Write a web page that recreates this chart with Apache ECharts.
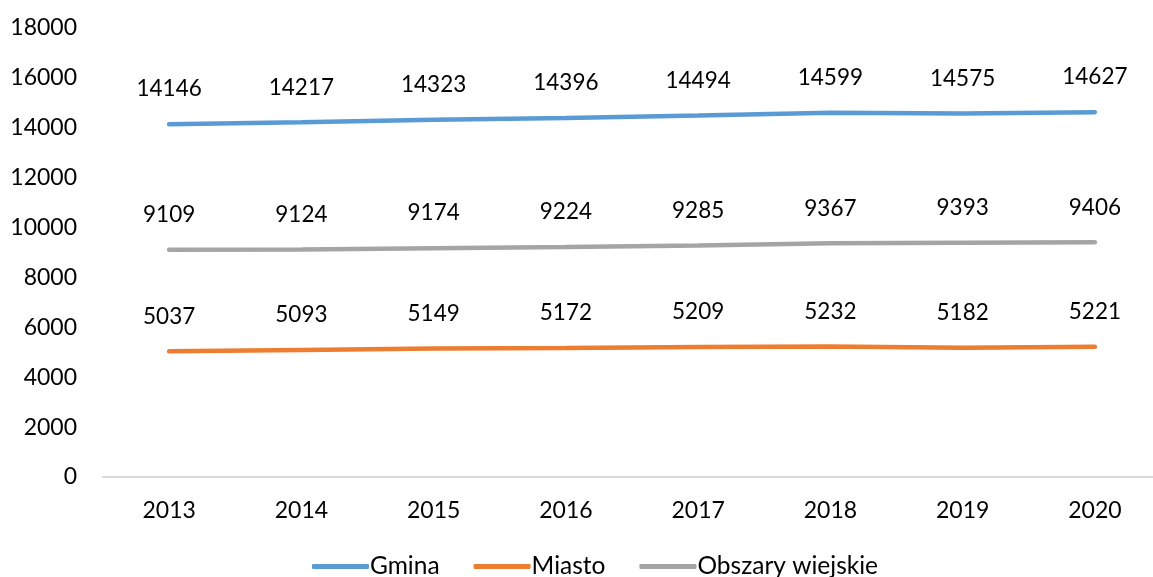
<!DOCTYPE html>
<html><head><meta charset="utf-8">
<script src="https://cdn.jsdelivr.net/npm/echarts@6/dist/echarts.min.js"></script>
<style>html,body{margin:0;padding:0;background:#fff;overflow:hidden}#c{width:1161px;height:577px}</style>
</head><body><div id="c"></div>
<script>
const categories = ['2013','2014','2015','2016','2017','2018','2019','2020'];
const gmina = [14146,14217,14323,14396,14494,14599,14575,14627];
const miasto = [5037,5093,5149,5172,5209,5232,5182,5221];
const obszary = [9109,9124,9174,9224,9285,9367,9393,9406];
const seriesNames = ['Gmina','Miasto','Obszary wiejskie'];
const colors = ['#5b9bd5','#ed7d31','#a5a5a5'];
const font = 'Lato, "Open Sans", sans-serif';
const chart = echarts.init(document.getElementById('c'));
function mk(name, data, color){
  return {name, type:'line', data, symbol:'circle', symbolSize:1, showSymbol:true,
    smooth:false,
    lineStyle:{width:4.5, color, cap:'round'}, itemStyle:{color},
    label:{show:true, position:'top', distance:23, color:'#000', fontSize:22.5, fontFamily:font}};
}
chart.setOption({
  animation:false,
  color:colors,
  grid:{left:103, top:28, right:0, bottom:100, containLabel:false},
  xAxis:{type:'category', data:categories, boundaryGap:true,
    axisLine:{lineStyle:{color:'#d9d9d9', width:2}}, axisTick:{show:false},
    axisLabel:{color:'#000', fontSize:23, fontFamily:font, margin:22}},
  yAxis:{type:'value', min:0, max:18000, interval:2000,
    axisLine:{show:false}, axisTick:{show:false}, splitLine:{show:false},
    axisLabel:{color:'#000', fontSize:23, fontFamily:font, margin:26, formatter:v=>String(v)}},
  legend:{bottom:-7, left:307, itemWidth:57, itemHeight:5, itemGap:34, icon:'roundRect',
    textStyle:{color:'#000', fontSize:24.5, fontFamily:font, padding:[0,0,0,-4]},
    data:seriesNames},
  series:[mk(seriesNames[0], gmina, colors[0]), mk(seriesNames[1], miasto, colors[1]), mk(seriesNames[2], obszary, colors[2])]
});
</script></body></html>
